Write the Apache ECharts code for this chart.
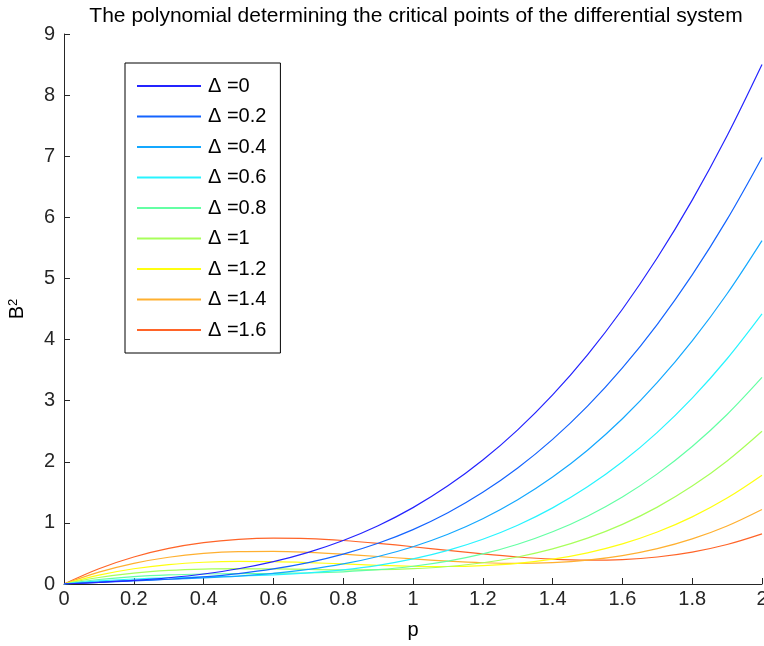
<!DOCTYPE html>
<html>
<head>
<meta charset="utf-8">
<script src="https://cdn.jsdelivr.net/npm/echarts@6/dist/echarts.min.js"></script>
<style>html,body{margin:0;padding:0;background:#fff}#c{width:764px;height:646px}</style>
</head>
<body>
<div id="c"></div>
<script>
const pValues = [0,0.1,0.2,0.3,0.4,0.5,0.6,0.7,0.8,0.9,1.0,1.1,1.2,1.3,1.4,1.5,1.6,1.7,1.8,1.9,2.0];
const seriesNames = ['\u0394 =0','\u0394 =0.2','\u0394 =0.4','\u0394 =0.6','\u0394 =0.8','\u0394 =1','\u0394 =1.2','\u0394 =1.4','\u0394 =1.6'];
const d00 = [0,0.026,0.058,0.102,0.164,0.25,0.366,0.518,0.712,0.954,1.25,1.606,2.028,2.522,3.094,3.75,4.496,5.338,6.282,7.334,8.5];
const d02 = [0,0.026,0.05,0.078,0.116,0.17,0.246,0.35,0.488,0.666,0.89,1.166,1.5,1.898,2.366,2.91,3.536,4.25,5.058,5.966,6.98];
const d04 = [0,0.034,0.058,0.078,0.1,0.13,0.174,0.238,0.328,0.45,0.61,0.814,1.068,1.378,1.75,2.19,2.704,3.298,3.978,4.75,5.62];
const d06 = [0,0.05,0.082,0.102,0.116,0.13,0.15,0.182,0.232,0.306,0.41,0.55,0.732,0.962,1.246,1.59,2.0,2.482,3.042,3.686,4.42];
const d08 = [0,0.074,0.122,0.15,0.164,0.17,0.174,0.182,0.2,0.234,0.29,0.374,0.492,0.65,0.854,1.11,1.424,1.802,2.25,2.774,3.38];
const d10 = [0,0.106,0.178,0.222,0.244,0.25,0.246,0.238,0.232,0.234,0.25,0.286,0.348,0.442,0.574,0.75,0.976,1.258,1.602,2.014,2.5];
const d12 = [0,0.146,0.25,0.318,0.356,0.37,0.366,0.35,0.328,0.306,0.29,0.286,0.3,0.338,0.406,0.51,0.656,0.85,1.098,1.406,1.78];
const d14 = [0,0.194,0.338,0.438,0.5,0.53,0.534,0.518,0.488,0.45,0.41,0.374,0.348,0.338,0.35,0.39,0.464,0.578,0.738,0.95,1.22];
const d16 = [0,0.25,0.442,0.582,0.676,0.73,0.75,0.742,0.712,0.666,0.61,0.55,0.492,0.442,0.406,0.39,0.4,0.442,0.522,0.646,0.82];
const allData = [d00,d02,d04,d06,d08,d10,d12,d14,d16];
const colors = ['#2424ff','#1464ff','#14a8ff','#28f4ff','#64ffa4','#a8ff5a','#ffff10','#ffb030','#ff6428'];

const chart = echarts.init(document.getElementById('c'), null, {renderer:'canvas'});
const font = 'Liberation Sans, Arial, sans-serif';
const series = allData.map((arr, i) => ({
  name: seriesNames[i],
  type: 'line',
  data: pValues.map((p, j) => [p, arr[j]]),
  symbol: 'none',
  smooth: 0.35,
  lineStyle: {color: colors[i], width: 1.2},
  itemStyle: {color: colors[i]},
  z: 10 - i
}));
chart.setOption({
  animation: false,
  backgroundColor: '#fff',
  color: colors,
  title: {
    text: 'The polynomial determining the critical points of the differential system',
    left: 411, textAlign: 'center', top: 1,
    textStyle: {fontFamily: font, fontSize: 21, fontWeight: 'normal', color: '#000'}
  },
  legend: {
    orient: 'vertical', left: 125, top: 63,
    padding: [13, 14, 13, 12],
    icon: 'rect',
    itemWidth: 64, itemHeight: 2, itemGap: 10.5,
    borderColor: '#000', borderWidth: 1, borderRadius: 0,
    backgroundColor: '#fff',
    textStyle: {fontFamily: font, fontSize: 20, color: '#000', lineHeight: 20, padding: [0,0,0,2]},
    data: seriesNames
  },
  grid: {left: 64, right: 2, top: 34, bottom: 62, containLabel: false, outerBoundsMode: 'none'},
  xAxis: {
    type: 'value', min: 0, max: 2, interval: 0.2,
    name: 'p', nameLocation: 'middle', nameGap: 36,
    nameTextStyle: {fontFamily: font, fontSize: 20, color: '#000'},
    axisLine: {show: true, lineStyle: {color: '#262626', width: 1}},
    axisTick: {show: true, inside: true, length: 6, lineStyle: {color: '#262626'}},
    axisLabel: {fontFamily: font, fontSize: 20, color: '#262626', margin: 5},
    splitLine: {show: false}
  },
  yAxis: {
    type: 'value', min: 0, max: 9, interval: 1,
    name: 'B{sup|2}', nameLocation: 'middle', nameGap: 36,
    nameTextStyle: {fontFamily: font, fontSize: 20, color: '#000',
      rich: {sup: {fontFamily: font, fontSize: 13, verticalAlign: 'top', padding: [0,0,8,0]}}},
    axisLine: {show: true, lineStyle: {color: '#262626', width: 1}},
    axisTick: {show: true, inside: true, length: 6, lineStyle: {color: '#262626'}},
    axisLabel: {fontFamily: font, fontSize: 20, color: '#262626', margin: 9},
    splitLine: {show: false}
  },
  series: series
});
</script>
</body>
</html>
